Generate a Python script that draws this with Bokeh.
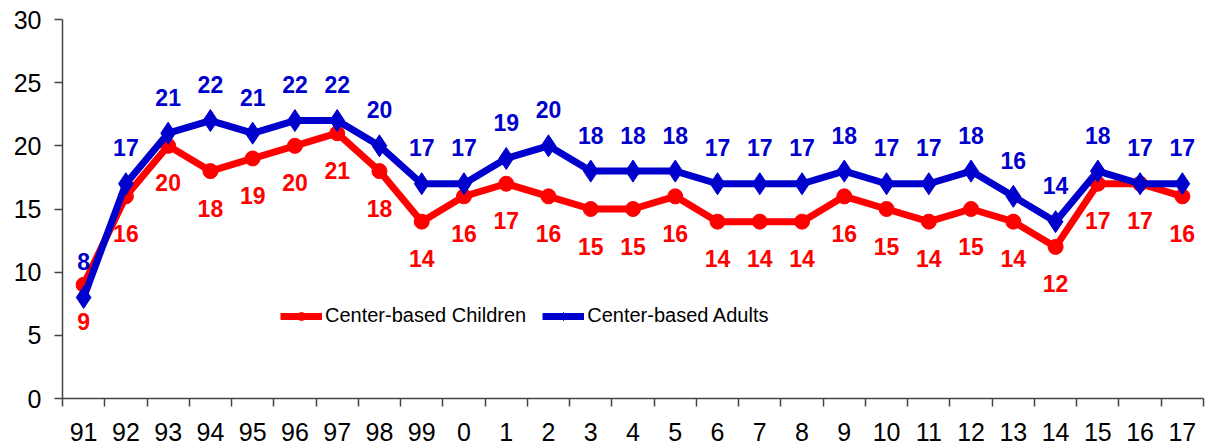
from bokeh.plotting import figure
from bokeh.models import FixedTicker, ColumnDataSource, Legend, LegendItem, Range1d
from bokeh.core.properties import value
from bokeh.embed import file_html
from bokeh.resources import INLINE

years = ["91", "92", "93", "94", "95", "96", "97", "98", "99", "0", "1", "2", "3", "4", "5",
         "6", "7", "8", "9", "10", "11", "12", "13", "14", "15", "16", "17"]
children = [9, 16, 20, 18, 19, 20, 21, 18, 14, 16, 17, 16, 15, 15, 16, 14, 14, 14, 16, 15, 14, 15, 14, 12, 17, 17, 16]
adults = [8, 17, 21, 22, 21, 22, 22, 20, 17, 17, 19, 20, 18, 18, 18, 17, 17, 17, 18, 17, 17, 18, 16, 14, 18, 17, 17]
y_ticks = [0, 5, 10, 15, 20, 25, 30]

RED = "#FF0000"
BLUE = "#0000CC"
FONT = "Liberation Sans"

xs = list(range(len(years)))
src = ColumnDataSource(dict(x=xs, c=children, a=adults,
                            cl=[str(v) for v in children], al=[str(v) for v in adults]))

p = figure(width=1205, height=445, output_backend="svg", toolbar_location=None,
           x_range=Range1d(-0.5, len(years) - 0.5), y_range=Range1d(0, 30),
           min_border_left=62, min_border_right=2, min_border_top=19, min_border_bottom=47)
p.outline_line_color = None
p.xgrid.visible = False
p.ygrid.visible = False
p.background_fill_color = "white"

lc = p.line("x", "c", source=src, line_color=RED, line_width=7)
sc = p.scatter("x", "c", source=src, marker="circle", size=15, fill_color=RED, line_color=RED)
la = p.line("x", "a", source=src, line_color=BLUE, line_width=7)
sa = p.scatter("x", "a", source=src, marker="diamond", size=22, fill_color=BLUE, line_color=BLUE)

p.text("x", "a", text="al", source=src, text_color=BLUE, text_font=value(FONT),
       text_font_size="23px", text_font_style="bold", text_align="center",
       text_baseline="middle", y_offset=-36)
p.text("x", "c", text="cl", source=src, text_color=RED, text_font=value(FONT),
       text_font_size="23px", text_font_style="bold", text_align="center",
       text_baseline="middle", y_offset=37)

# axes
p.xaxis.ticker = FixedTicker(ticks=xs, minor_ticks=[i - 0.5 for i in range(len(years) + 1)])
p.xaxis.major_label_overrides = {i: years[i] for i in xs}
p.xaxis.major_tick_out = 0
p.xaxis.major_tick_in = 0
p.xaxis.minor_tick_out = 8
p.xaxis.minor_tick_in = 0
p.xaxis.major_label_standoff = 16
p.yaxis.ticker = FixedTicker(ticks=y_ticks)
p.yaxis.major_tick_out = 8
p.yaxis.major_tick_in = 0
p.yaxis.major_label_standoff = 13
for ax in (p.xaxis, p.yaxis):
    ax.axis_line_color = "#444444"
    ax.major_tick_line_color = "#444444"
    ax.major_label_text_font = FONT
    ax.major_label_text_font_size = "25px"
    ax.major_label_text_color = "black"
    ax.axis_line_width = 1.5
    ax.major_tick_line_width = 1.5
p.xaxis.minor_tick_line_color = "#444444"
p.xaxis.minor_tick_line_width = 1.5
p.yaxis.minor_tick_line_color = None

legend = Legend(items=[LegendItem(label="Center-based Children", renderers=[lc, sc]),
                       LegendItem(label="Center-based Adults", renderers=[la, sa])],
                orientation="horizontal", location=(218, 71),
                label_text_font=FONT, label_text_font_size="20px", label_text_color="black",
                glyph_width=42, glyph_height=20, label_standoff=3, spacing=16,
                border_line_color=None, background_fill_alpha=0, padding=4, margin=0)
p.add_layout(legend, "center")

open("out.html", "w").write(file_html(p, INLINE))
